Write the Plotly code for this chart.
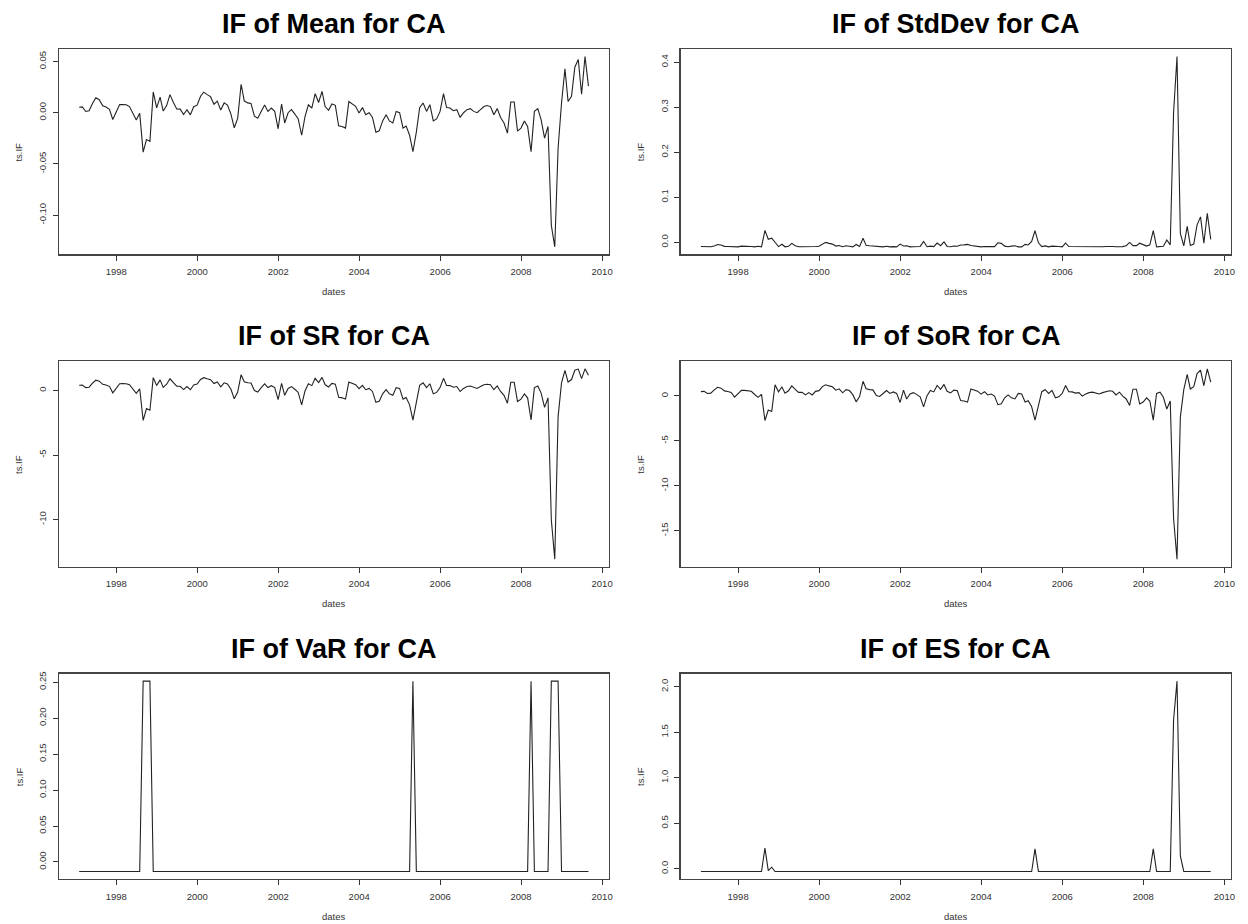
import pandas as pd
import plotly.graph_objects as go

# ---------------- data ----------------
n_months = 152
dates = pd.date_range("1997-01-31", periods=n_months, freq=pd.offsets.MonthEnd())
date_str = [d.strftime("%Y-%m-%d") for d in dates]

year_ticks = [1998, 2000, 2002, 2004, 2006, 2008, 2010]

mean_if = [
    0.0053, 0.0057, 0.0012, 0.0020, 0.0090, 0.0146, 0.0127, 0.0068, 0.0056, 0.0034, -0.0066, 0.0002,
    0.0079, 0.0080, 0.0078, 0.0060, -0.0010, -0.0072, -0.0006, -0.0385, -0.0262, -0.0280, 0.0203, 0.0047,
    0.0153, 0.0016, 0.0070, 0.0177, 0.0100, 0.0036, 0.0035, -0.0018, 0.0030, -0.0021, 0.0058, 0.0074,
    0.0161, 0.0201, 0.0177, 0.0157, 0.0083, 0.0113, 0.0027, 0.0096, 0.0075, -0.0014, -0.0147, -0.0055,
    0.0278, 0.0116, 0.0096, 0.0091, -0.0033, -0.0054, 0.0012, 0.0075, 0.0013, 0.0045, 0.0013, -0.0157,
    0.0085, -0.0100, 0.0000, 0.0030, -0.0013, -0.0060, -0.0220, -0.0036, 0.0078, 0.0046, 0.0186, 0.0100,
    0.0209, 0.0060, 0.0023, 0.0085, 0.0072, -0.0127, -0.0134, -0.0150, 0.0110, 0.0085, 0.0062, -0.0003,
    0.0050, -0.0020, 0.0000, -0.0046, -0.0190, -0.0177, -0.0080, -0.0020, -0.0080, -0.0100, 0.0013, 0.0000,
    -0.0150, -0.0130, -0.0220, -0.0381, -0.0190, 0.0050, 0.0095, 0.0013, 0.0078, -0.0080, -0.0060, 0.0013,
    0.0186, 0.0050, 0.0046, 0.0020, 0.0030, -0.0046, 0.0000, 0.0030, 0.0040, 0.0013, 0.0000, 0.0030,
    0.0060, 0.0070, 0.0060, -0.0020, 0.0040, -0.0046, -0.0100, -0.0200, 0.0105, 0.0105, -0.0180, -0.0150,
    -0.0080, -0.0134, -0.0381, 0.0013, 0.0040, -0.0070, -0.0249, -0.0134, -0.1100, -0.1310, -0.0347, 0.0095,
    0.0430, 0.0110, 0.0160, 0.0445, 0.0520, 0.0180, 0.0549, 0.0260,
]

stddev_if = [
    -0.0095, -0.0094, -0.0102, -0.0101, -0.0082, -0.0050, -0.0062, -0.0091, -0.0094, -0.0099, -0.0091, -0.0102,
    -0.0087, -0.0086, -0.0087, -0.0093, -0.0102, -0.0089, -0.0102, 0.0263, 0.0067, 0.0091, 0.0000, -0.0097,
    -0.0044, -0.0101, -0.0090, -0.0025, -0.0077, -0.0099, -0.0099, -0.0101, -0.0100, -0.0101, -0.0094, -0.0089,
    -0.0038, -0.0003, -0.0025, -0.0041, -0.0085, -0.0071, -0.0100, -0.0079, -0.0088, -0.0102, -0.0049, -0.0095,
    0.0088, -0.0069, -0.0079, -0.0082, -0.0099, -0.0095, -0.0102, -0.0088, -0.0102, -0.0097, -0.0102, -0.0041,
    -0.0084, -0.0077, -0.0102, -0.0100, -0.0102, -0.0093, 0.0017, -0.0099, -0.0087, -0.0097, -0.0017, -0.0077,
    0.0006, -0.0093, -0.0101, -0.0084, -0.0089, -0.0062, -0.0058, -0.0047, -0.0072, -0.0084, -0.0093, -0.0102,
    -0.0096, -0.0101, -0.0102, -0.0097, -0.0013, -0.0025, -0.0086, -0.0101, -0.0086, -0.0077, -0.0102, -0.0102,
    -0.0047, -0.0060, 0.0017, 0.0256, -0.0013, -0.0096, -0.0080, -0.0102, -0.0087, -0.0086, -0.0093, -0.0102,
    -0.0017, -0.0096, -0.0097, -0.0101, -0.0100, -0.0097, -0.0102, -0.0100, -0.0098, -0.0102, -0.0102, -0.0100,
    -0.0093, -0.0090, -0.0093, -0.0101, -0.0098, -0.0097, -0.0077, -0.0004, -0.0075, -0.0075, -0.0022, -0.0047,
    -0.0086, -0.0058, 0.0256, -0.0102, -0.0098, -0.0090, 0.0051, -0.0058, 0.2878, 0.4125, 0.0195, -0.0080,
    0.0353, -0.0072, -0.0039, 0.0386, 0.0564, -0.0022, 0.0640, 0.0065,
]

sr_if = [
    0.413, 0.431, 0.222, 0.260, 0.575, 0.799, 0.726, 0.480, 0.427, 0.326, -0.180, 0.173,
    0.528, 0.532, 0.524, 0.445, 0.113, -0.212, 0.133, -2.320, -1.399, -1.527, 1.001, 0.386,
    0.825, 0.241, 0.489, 0.912, 0.617, 0.335, 0.331, 0.073, 0.307, 0.058, 0.436, 0.506,
    0.854, 0.995, 0.912, 0.840, 0.545, 0.670, 0.293, 0.600, 0.511, 0.093, -0.647, -0.120,
    1.229, 0.682, 0.600, 0.579, -0.004, -0.115, 0.222, 0.511, 0.227, 0.377, 0.227, -0.708,
    0.554, -0.370, 0.163, 0.307, 0.098, -0.147, -1.113, -0.020, 0.524, 0.381, 0.944, 0.617,
    1.021, 0.445, 0.274, 0.554, 0.498, -0.527, -0.568, -0.665, 0.658, 0.554, 0.454, 0.148,
    0.400, 0.063, 0.163, -0.072, -0.916, -0.833, -0.256, 0.063, -0.256, -0.370, 0.227, 0.163,
    -0.665, -0.545, -1.113, -2.288, -0.916, 0.400, 0.596, 0.227, 0.524, -0.256, -0.147, 0.227,
    0.944, 0.400, 0.381, 0.260, 0.307, -0.072, 0.163, 0.307, 0.354, 0.227, 0.163, 0.307,
    0.445, 0.489, 0.445, 0.063, 0.354, -0.072, -0.370, -0.981, 0.637, 0.637, -0.852, -0.665,
    -0.256, -0.568, -2.288, 0.227, 0.354, -0.201, -1.309, -0.568, -10.03, -13.07, -2.023, 0.596,
    1.554, 0.658, 0.851, 1.576, 1.660, 0.923, 1.681, 1.178,
]

sor_if = [
    0.480, 0.501, 0.271, 0.312, 0.669, 0.955, 0.858, 0.557, 0.496, 0.383, -0.127, 0.220,
    0.613, 0.618, 0.608, 0.516, 0.159, -0.163, 0.179, -2.738, -1.567, -1.725, 1.245, 0.450,
    0.990, 0.292, 0.567, 1.113, 0.720, 0.394, 0.389, 0.118, 0.363, 0.103, 0.506, 0.587,
    1.031, 1.235, 1.113, 1.011, 0.633, 0.786, 0.348, 0.700, 0.593, 0.139, -0.659, -0.071,
    1.628, 0.802, 0.700, 0.674, 0.042, -0.065, 0.271, 0.593, 0.276, 0.440, 0.276, -0.730,
    0.644, -0.339, 0.210, 0.363, 0.144, -0.096, -1.214, 0.026, 0.608, 0.445, 1.159, 0.720,
    1.276, 0.516, 0.327, 0.644, 0.577, -0.519, -0.567, -0.680, 0.771, 0.644, 0.526, 0.195,
    0.465, 0.108, 0.210, -0.025, -0.977, -0.878, -0.212, 0.108, -0.212, -0.339, 0.276, 0.210,
    -0.680, -0.540, -1.214, -2.697, -0.977, 0.465, 0.695, 0.276, 0.608, -0.212, -0.096, 0.276,
    1.159, 0.465, 0.445, 0.312, 0.363, -0.025, 0.210, 0.363, 0.414, 0.276, 0.210, 0.363,
    0.516, 0.567, 0.516, 0.108, 0.414, -0.025, -0.339, -1.055, 0.746, 0.746, -0.901, -0.680,
    -0.212, -0.567, -2.697, 0.276, 0.414, -0.151, -1.455, -0.567, -13.63, -18.15, -2.354, 0.695,
    2.403, 0.771, 1.026, 2.480, 2.862, 1.128, 3.010, 1.536,
]

var_base, var_peak = -0.0132, 0.2514
var_if = ([var_base] * 19 + [var_peak] * 3 + [var_base] * 77 + [var_peak] + [var_base] * 34
          + [var_peak] + [var_base] * 5 + [var_peak] * 3 + [var_base] * 9)

es_base = -0.029
es_if = ([es_base] * 19 + [0.227, -0.019, 0.018] + [es_base] * 77 + [0.219] + [es_base] * 34
         + [0.219] + [es_base] * 5 + [1.635, 2.062, 0.143] + [es_base] * 9)

panels = [
    ("IF of Mean for CA", mean_if, [-0.10, -0.05, 0.00, 0.05], ["-0.10", "-0.05", "0.00", "0.05"]),
    ("IF of StdDev for CA", stddev_if, [0.0, 0.1, 0.2, 0.3, 0.4], ["0.0", "0.1", "0.2", "0.3", "0.4"]),
    ("IF of SR for CA", sr_if, [-10, -5, 0], ["-10", "-5", "0"]),
    ("IF of SoR for CA", sor_if, [-15, -10, -5, 0], ["-15", "-10", "-5", "0"]),
    ("IF of VaR for CA", var_if, [0.00, 0.05, 0.10, 0.15, 0.20, 0.25],
     ["0.00", "0.05", "0.10", "0.15", "0.20", "0.25"]),
    ("IF of ES for CA", es_if, [0.0, 0.5, 1.0, 1.5, 2.0], ["0.0", "0.5", "1.0", "1.5", "2.0"]),
]

# ---------------- layout ----------------
W, H = 1248, 924
col_px = [(59.0, 610.7), (682.7, 1235.0)]
row_top = [47.0, 360.0, 673.0]
box_h = 206.0

FONT = "Liberation Sans, Arial, Helvetica, sans-serif"
AXC = "#333333"

span = dates[-1] - dates[0]
x_lo = (dates[0] - span * 0.04).strftime("%Y-%m-%d")
x_hi = (dates[-1] + span * 0.04).strftime("%Y-%m-%d")
x_tickvals = [f"{y}-01-01" for y in year_ticks]
x_ticktext = [str(y) for y in year_ticks]

fig = go.Figure()
annotations = []
layout = dict(
    width=W, height=H,
    margin=dict(l=0, r=0, t=0, b=0),
    paper_bgcolor="white", plot_bgcolor="white",
    showlegend=False,
    font=dict(family=FONT, color=AXC),
)

for k, (title, vals, yt, ytl) in enumerate(panels):
    r, c = divmod(k, 2)
    x0, x1 = col_px[c]
    top = row_top[r]
    bot = top + box_h
    sfx = "" if k == 0 else str(k + 1)
    xa, ya = "x" + sfx, "y" + sfx

    fig.add_trace(go.Scatter(
        x=date_str, y=vals, mode="lines", xaxis=xa, yaxis=ya,
        line=dict(color="#222222", width=1.1), hoverinfo="skip",
    ))

    lo, hi = min(vals), max(vals)
    pad = 0.04 * (hi - lo)

    layout["xaxis" + sfx] = dict(
        domain=[x0 / W, x1 / W], anchor=ya, type="date",
        range=[x_lo, x_hi], tickmode="array", tickvals=x_tickvals, ticktext=x_ticktext,
        showgrid=False, zeroline=False, showline=True, mirror=True,
        linecolor="#444444", linewidth=1.2, ticks="outside", ticklen=5, tickwidth=1,
        tickcolor=AXC, tickfont=dict(size=9.5, color=AXC, family=FONT),
        ticklabelstandoff=3, fixedrange=True,
    )
    layout["yaxis" + sfx] = dict(
        domain=[1 - bot / H, 1 - top / H], anchor=xa,
        range=[lo - pad, hi + pad], tickmode="array", tickvals=yt, ticktext=ytl,
        showgrid=False, zeroline=False, showline=True, mirror=True,
        linecolor="#444444", linewidth=1.2, ticks="outside", ticklen=5, tickwidth=1,
        tickcolor=AXC, tickangle=-90, tickfont=dict(size=9.5, color=AXC, family=FONT),
        ticklabelstandoff=3, fixedrange=True,
    )

    annotations.append(dict(
        text=f"<b>{title}</b>", x=(x0 + x1) / 2 / W, y=1 - (top - 25) / H,
        xref="paper", yref="paper", xanchor="center", yanchor="middle",
        showarrow=False, font=dict(size=27, color="black", family=FONT),
    ))
    annotations.append(dict(
        text="dates", x=(x0 + x1) / 2 / W, y=1 - (bot + 37) / H,
        xref="paper", yref="paper", xanchor="center", yanchor="middle",
        showarrow=False, font=dict(size=9.5, color=AXC, family=FONT),
    ))
    annotations.append(dict(
        text="ts.IF", x=(x0 - 40) / W, y=1 - (top + box_h / 2) / H,
        xref="paper", yref="paper", xanchor="center", yanchor="middle",
        textangle=-90, showarrow=False, font=dict(size=9.5, color=AXC, family=FONT),
    ))

layout["annotations"] = annotations
fig.update_layout(**layout)
# remove the browser's default 8px page margin so the figure fills the window exactly
fig.write_html(
    "out.html",
    config={"displayModeBar": False, "staticPlot": True},
    post_script="document.body.style.margin='0px';document.body.style.overflow='hidden';",
)
